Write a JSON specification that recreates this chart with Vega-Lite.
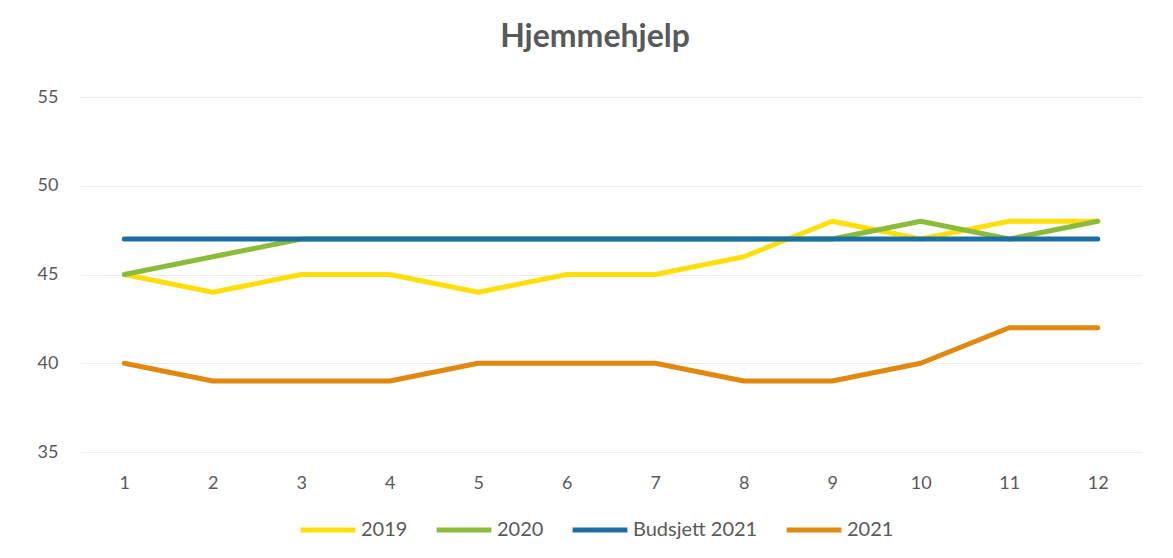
{
  "$schema": "https://vega.github.io/schema/vega-lite/v6.json",
  "autosize": "none",
  "width": 1062,
  "height": 355,
  "padding": {"left": 80, "top": 97, "right": 31, "bottom": 106},
  "background": "white",
  "title": {
    "text": "Hjemmehjelp",
    "font": "Lato",
    "fontSize": 32,
    "fontWeight": "bold",
    "color": "#595959",
    "anchor": "middle",
    "dx": -16,
    "offset": 34
  },
  "config": {
    "view": {"stroke": null},
    "font": "Lato"
  },
  "data": {
    "values": [
      {"month": 1, "series": "2019", "value": 45},
      {"month": 2, "series": "2019", "value": 44},
      {"month": 3, "series": "2019", "value": 45},
      {"month": 4, "series": "2019", "value": 45},
      {"month": 5, "series": "2019", "value": 44},
      {"month": 6, "series": "2019", "value": 45},
      {"month": 7, "series": "2019", "value": 45},
      {"month": 8, "series": "2019", "value": 46},
      {"month": 9, "series": "2019", "value": 48},
      {"month": 10, "series": "2019", "value": 47},
      {"month": 11, "series": "2019", "value": 48},
      {"month": 12, "series": "2019", "value": 48},
      {"month": 1, "series": "2020", "value": 45},
      {"month": 2, "series": "2020", "value": 46},
      {"month": 3, "series": "2020", "value": 47},
      {"month": 4, "series": "2020", "value": 47},
      {"month": 5, "series": "2020", "value": 47},
      {"month": 6, "series": "2020", "value": 47},
      {"month": 7, "series": "2020", "value": 47},
      {"month": 8, "series": "2020", "value": 47},
      {"month": 9, "series": "2020", "value": 47},
      {"month": 10, "series": "2020", "value": 48},
      {"month": 11, "series": "2020", "value": 47},
      {"month": 12, "series": "2020", "value": 48},
      {"month": 1, "series": "Budsjett 2021", "value": 47},
      {"month": 2, "series": "Budsjett 2021", "value": 47},
      {"month": 3, "series": "Budsjett 2021", "value": 47},
      {"month": 4, "series": "Budsjett 2021", "value": 47},
      {"month": 5, "series": "Budsjett 2021", "value": 47},
      {"month": 6, "series": "Budsjett 2021", "value": 47},
      {"month": 7, "series": "Budsjett 2021", "value": 47},
      {"month": 8, "series": "Budsjett 2021", "value": 47},
      {"month": 9, "series": "Budsjett 2021", "value": 47},
      {"month": 10, "series": "Budsjett 2021", "value": 47},
      {"month": 11, "series": "Budsjett 2021", "value": 47},
      {"month": 12, "series": "Budsjett 2021", "value": 47},
      {"month": 1, "series": "2021", "value": 40},
      {"month": 2, "series": "2021", "value": 39},
      {"month": 3, "series": "2021", "value": 39},
      {"month": 4, "series": "2021", "value": 39},
      {"month": 5, "series": "2021", "value": 40},
      {"month": 6, "series": "2021", "value": 40},
      {"month": 7, "series": "2021", "value": 40},
      {"month": 8, "series": "2021", "value": 39},
      {"month": 9, "series": "2021", "value": 39},
      {"month": 10, "series": "2021", "value": 40},
      {"month": 11, "series": "2021", "value": 42},
      {"month": 12, "series": "2021", "value": 42}
    ]
  },
  "mark": {"type": "line", "strokeWidth": 5, "strokeCap": "round", "strokeJoin": "round"},
  "encoding": {
    "x": {
      "field": "month",
      "type": "ordinal",
      "scale": {"type": "point", "padding": 0.5},
      "axis": {
        "title": null,
        "labelAngle": 0,
        "labelFontSize": 18,
        "labelColor": "#595959",
        "labelPadding": 22,
        "domain": false,
        "ticks": false,
        "grid": false
      }
    },
    "y": {
      "field": "value",
      "type": "quantitative",
      "scale": {"domain": [35, 55], "nice": false, "zero": false},
      "axis": {
        "title": null,
        "values": [35, 40, 45, 50, 55],
        "labelFontSize": 18,
        "labelColor": "#595959",
        "labelPadding": 22,
        "domain": false,
        "ticks": false,
        "grid": true,
        "gridColor": "#ececec",
        "gridWidth": 1
      }
    },
    "color": {
      "field": "series",
      "type": "nominal",
      "scale": {
        "domain": ["2019", "2020", "Budsjett 2021", "2021"],
        "range": ["#FFDE0A", "#8CBB3C", "#1C6FA3", "#E0880F"]
      },
      "legend": {
        "title": null,
        "orient": "none",
        "direction": "horizontal",
        "legendX": 218,
        "legendY": 403,
        "symbolType": "stroke",
        "symbolSize": 3000,
        "symbolStrokeWidth": 5,
        "labelFontSize": 20,
        "labelColor": "#595959",
        "labelOffset": 3,
        "columnPadding": 18
      }
    },
    "order": {"field": "month"}
  }
}
